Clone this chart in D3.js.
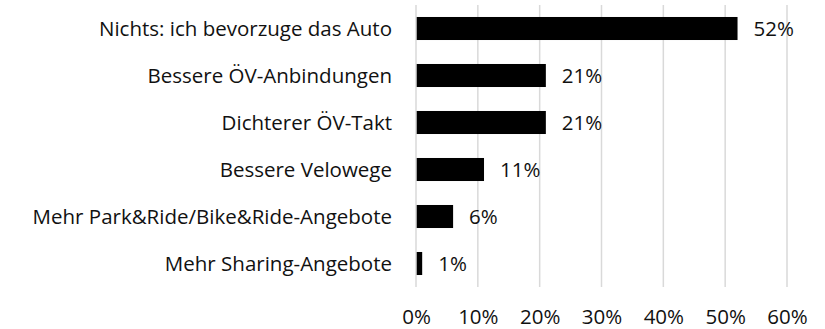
<!DOCTYPE html>
<html>
<head>
<meta charset="utf-8">
<script src="https://cdn.jsdelivr.net/npm/d3@7"></script>
<style>
  html, body { margin: 0; padding: 0; background: #fff; }
  svg { display: block; }
  text { font-family: "Open Sans", "Noto Sans", sans-serif; fill: #111; }
</style>
</head>
<body>
<svg id="chart" width="825" height="329"></svg>
<script>
// Survey answers and their shares (percent)
const categories = [
  "Nichts: ich bevorzuge das Auto",
  "Bessere ÖV-Anbindungen",
  "Dichterer ÖV-Takt",
  "Bessere Velowege",
  "Mehr Park&Ride/Bike&Ride-Angebote",
  "Mehr Sharing-Angebote"
];
const values = [52, 21, 21, 11, 6, 1];
const tickValues = [0, 10, 20, 30, 40, 50, 60];

const svg = d3.select("#chart");
const margin = { left: 416, right: 38, top: 5, bottom: 42 };
const W = 825, H = 329;
const fontSize = 20.5;

const x = d3.scaleLinear().domain([0, 60]).range([margin.left, W - margin.right]);
const y = d3.scaleBand().domain(categories).range([margin.top, H - margin.bottom])
  .paddingInner(0.51).paddingOuter(0.255);

// vertical gridlines
svg.append("g")
  .selectAll("line")
  .data(tickValues.filter(d => d > 0))
  .join("line")
  .attr("x1", d => x(d)).attr("x2", d => x(d))
  .attr("y1", margin.top).attr("y2", H - margin.bottom)
  .attr("stroke", "#d9d9d9").attr("stroke-width", 1.5);

// bars
svg.append("g")
  .selectAll("rect")
  .data(values)
  .join("rect")
  .attr("x", x(0))
  .attr("y", (d, i) => y(categories[i]))
  .attr("width", d => x(d) - x(0))
  .attr("height", y.bandwidth())
  .attr("fill", "#000");

// category axis line
svg.append("line")
  .attr("x1", x(0)).attr("x2", x(0))
  .attr("y1", margin.top).attr("y2", H - margin.bottom)
  .attr("stroke", "#d9d9d9").attr("stroke-width", 1.5);

// category labels
svg.append("g")
  .selectAll("text")
  .data(categories)
  .join("text")
  .attr("x", x(0) - 24)
  .attr("y", d => y(d) + y.bandwidth() / 2)
  .attr("dy", "0.35em")
  .attr("text-anchor", "end")
  .attr("font-size", fontSize)
  .text(d => d);

// value labels
svg.append("g")
  .selectAll("text")
  .data(values)
  .join("text")
  .attr("x", d => x(d) + 16)
  .attr("y", (d, i) => y(categories[i]) + y.bandwidth() / 2)
  .attr("dy", "0.35em")
  .attr("font-size", fontSize)
  .text(d => d + "%");

// x axis tick labels
const xAxis = d3.axisBottom(x).tickValues(tickValues).tickFormat(d => d + "%").tickSize(0).tickPadding(0);
const gx = svg.append("g").attr("transform", `translate(0,${H - margin.bottom})`).call(xAxis);
gx.select(".domain").remove();
gx.selectAll("text")
  .attr("y", 30)
  .attr("dy", "0.35em")
  .attr("font-size", fontSize)
  .attr("font-family", "\"Open Sans\", \"Noto Sans\", sans-serif")
  .attr("fill", "#111");
</script>
</body>
</html>
